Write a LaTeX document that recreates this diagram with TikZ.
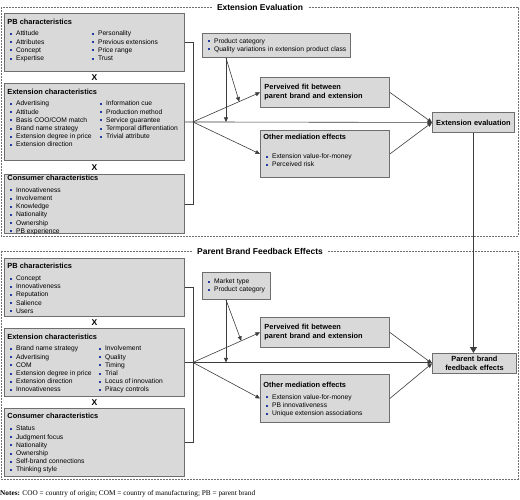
\documentclass[tikz,border=0pt]{standalone}
\usepackage{fontspec}
\setmainfont{Liberation Sans}
\newfontfamily\notesfont{Liberation Serif}
\usetikzlibrary{arrows.meta,calc,positioning}

\definecolor{boxfill}{RGB}{217,217,217}
\definecolor{boxline}{RGB}{110,110,110}
\definecolor{bulletblue}{RGB}{40,60,160}
\definecolor{lineclr}{RGB}{60,60,60}
\definecolor{framegray}{RGB}{110,110,110}

\newcommand{\bul}{\hspace*{3pt}\textcolor{bulletblue}{\rule[0.9pt]{2pt}{2pt}}\hspace{3.6pt}}
\newcommand{\boxhead}[1]{{\bfseries\fontsize{7.4}{9}\selectfont #1\par}}
\newcommand{\twocol}[3]{\makebox[#1][l]{\bul #2}\bul #3}

\tikzset{
  charbox/.style={draw=boxline, fill=boxfill, line width=0.9pt, anchor=north west,
    inner xsep=3pt, inner ysep=2pt, font=\fontsize{6.7}{8.2}\selectfont},
  modbox/.style={charbox, align=left},
  headbox/.style={charbox, align=left, inner xsep=4pt, font=\bfseries\fontsize{7.4}{9}\selectfont},
  outcome/.style={charbox, align=center, font=\bfseries\fontsize{7.4}{9}\selectfont},
  frame/.style={draw=framegray, line width=0.6pt, dash pattern=on 2pt off 1pt},
  frametitle/.style={fill=white, inner xsep=5pt, inner ysep=1pt, font=\bfseries\fontsize{8.5}{10}\selectfont},
  times/.style={inner sep=0pt, font=\bfseries\fontsize{8.5}{10}\selectfont},
  conn/.style={draw=lineclr, line width=0.6pt},
  arr/.style={conn, -{Triangle[length=4.5pt,width=4pt]}},
  bigarr/.style={conn, line width=0.8pt, -{Triangle[length=6pt,width=7pt]}}
}

\begin{document}
\begin{tikzpicture}[x=1pt,y=-1pt]
\useasboundingbox (0,0) rectangle (520,500);

% extension evaluation
\draw[frame] (1,7) rectangle (518,236);
\node[frametitle] (evaltitle) at (260,7) {Extension Evaluation};

\node[charbox] (pb1) at (4,13) {\parbox[c][54pt][t]{174pt}{\vspace*{3.35pt}\boxhead{PB characteristics}\vspace{3.55pt}
  \twocol{82pt}{Attitude}{Personality}\\
  \twocol{82pt}{Attributes}{Previous extensions}\\
  \twocol{82pt}{Concept}{Price range}\\
  \twocol{82pt}{Expertise}{Trust}}};
\node[charbox] (ext1) at (4,83) {\parbox[c][73pt][t]{174pt}{\vspace*{4.05pt}\boxhead{Extension characteristics}\vspace{2.85pt}
  \twocol{90pt}{Advertising}{Information cue}\\
  \twocol{90pt}{Attitude}{Production method}\\
  \twocol{90pt}{Basis COO/COM match}{Service guarantee}\\
  \twocol{90pt}{Brand name strategy}{Termporal differentiation}\\
  \twocol{90pt}{Extension degree in price}{Trivial attribute}\\
  \bul Extension direction}};
\node[charbox] (con1) at (4,174) {\parbox[c][55pt][t]{174pt}{\vspace*{-1.15pt}\boxhead{Consumer characteristics}\vspace{3.4pt}
  \bul Innovativeness\\
  \bul Involvement\\
  \bul Knowledge\\
  \bul Nationality\\
  \bul Ownership\\
  \bul PB experience}};
\node[times] (x1) at ($(pb1.south)!0.5!(ext1.north)$) {X};
\node[times] (x2) at ($(ext1.south)!0.5!(con1.north)$) {X};

\node[modbox, text width=142pt, minimum height=24pt] (mod1) at (202,33)
  {\bul Product category\\\bul Quality variations in extension product class};
\node[headbox, text width=121pt, minimum height=30pt] (pfit1) at (260,77)
  {Perveived fit between\\parent brand and extension};
\node[charbox] (oth1) at (260,130) {\parbox[c][43pt][t]{123pt}{\vspace*{1.35pt}\boxhead{Other mediation effects}\vspace{11.25pt}
  \bul Extension value-for-money\\
  \bul Perceived risk}};
\node[outcome, text width=76pt, minimum height=20pt] (eval) at (432,112) {Extension evaluation};

\coordinate[right=8pt of ext1.east] (j1);
\draw[conn] (pb1.east) -| (j1) |- (con1.east);
\draw[arr] (ext1.east) -- (eval.west);
\draw[arr] (j1) -- (pfit1.west);
\draw[arr] (j1) -- (oth1.west);
\draw[arr] (pfit1.east) -- (eval.west);
\draw[arr] (oth1.east) -- (eval.west);
\coordinate (m1) at ($(mod1.south west)+(24,0)$);
\draw[arr] (m1) -- (m1 |- ext1.east);
\draw[arr] (m1) -- ($(j1)!0.69!(pfit1.west)$);

% parent brand feedback
\draw[frame] (1,251) rectangle (518,479);
\node[frametitle] (fbtitle) at (260,251) {Parent Brand Feedback Effects};

\node[charbox] (pb2) at (4,258) {\parbox[c][54pt][t]{174pt}{\vspace*{2.4pt}\boxhead{PB characteristics}\vspace{4pt}
  \bul Concept\\
  \bul Innovativeness\\
  \bul Reputation\\
  \bul Salience\\
  \bul Users}};
\node[charbox] (ext2) at (4,328) {\parbox[c][64pt][t]{174pt}{\vspace*{3.75pt}\boxhead{Extension characteristics}\vspace{3.15pt}
  \twocol{89pt}{Brand name strategy}{Involvement}\\
  \twocol{89pt}{Advertising}{Quality}\\
  \twocol{89pt}{COM}{Timing}\\
  \twocol{89pt}{Extension degree in price}{Trial}\\
  \twocol{89pt}{Extension direction}{Locus of innovation}\\
  \twocol{89pt}{Innovativeness}{Piracy controls}}};
\node[charbox] (con2) at (4,408) {\parbox[c][64pt][t]{174pt}{\vspace*{3.05pt}\boxhead{Consumer characteristics}\vspace{3.85pt}
  \bul Status\\
  \bul Judgment focus\\
  \bul Nationality\\
  \bul Ownership\\
  \bul Self-brand connections\\
  \bul Thinking style}};
\node[times] (x3) at ($(pb2.south)!0.5!(ext2.north)$) {X};
\node[times] (x4) at ($(ext2.south)!0.5!(con2.north)$) {X};

\node[modbox, text width=62pt, minimum height=27pt] (mod2) at (202,272)
  {\bul Market type\\\bul Product category};
\node[headbox, text width=121pt, minimum height=30pt] (pfit2) at (260,317)
  {Perveived fit between\\parent brand and extension};
\node[charbox] (oth2) at (260,374) {\parbox[c][44pt][t]{123pt}{\vspace*{5.35pt}\boxhead{Other mediation effects}\vspace{3.85pt}
  \bul Extension value-for-money\\
  \bul PB innovativeness\\
  \bul Unique extension associations}};
\node[outcome, text width=78pt, minimum height=20pt] (pbfe) at (432,353) {Parent brand\\feedback effects};

\coordinate[right=8pt of ext2.east] (j2);
\draw[conn] (pb2.east) -| (j2) |- (con2.east);
\draw[arr] (ext2.east) -- (ext2.east -| pbfe.west);
\draw[arr] (j2) -- (pfit2.west);
\draw[arr] (j2) -- (oth2.west);
\draw[arr] (pfit2.east) -- (pbfe.west);
\draw[arr] (oth2.east) -- (pbfe.west);
\coordinate (m2) at ($(mod2.south west)+(24,0)$);
\draw[arr] (m2) -- (m2 |- ext2.east);
\draw[arr] (m2) -- ($(j2)!0.72!(pfit2.west)$);

\draw[bigarr] (eval.south) -- (eval.south |- pbfe.north);

\node[anchor=base west, inner sep=0pt, font=\notesfont\fontsize{7.3}{9}\selectfont] (notes) at (0,495.5)
  {\textbf{Notes:} COO = country of origin; COM = country of manufacturing; PB = parent brand};
\end{tikzpicture}
\end{document}
